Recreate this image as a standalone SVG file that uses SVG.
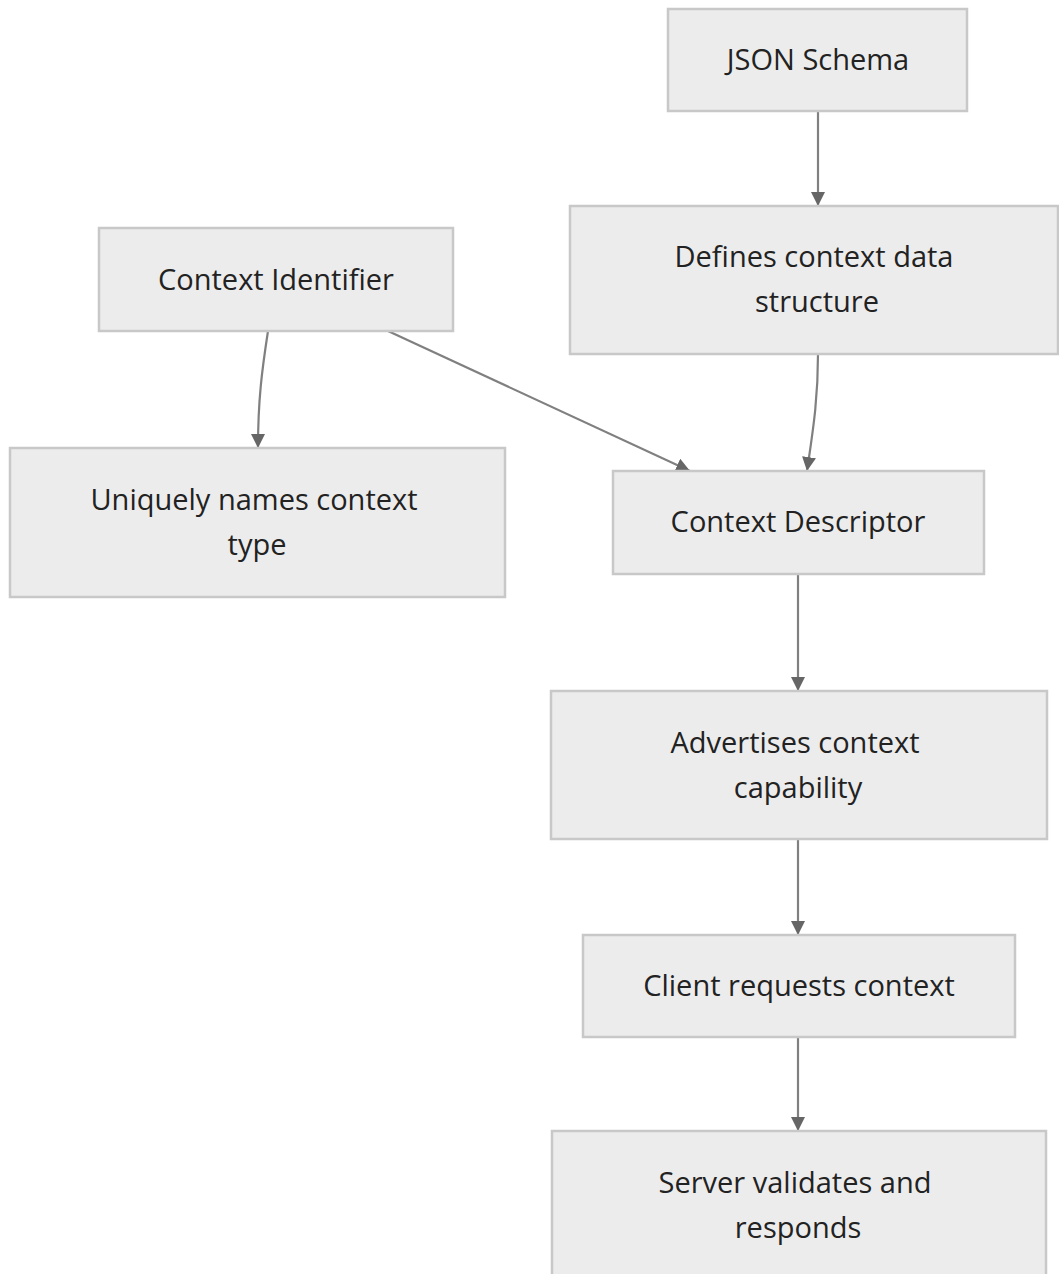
<svg xmlns="http://www.w3.org/2000/svg" width="1059" height="1274" viewBox="0 0 1059 1274">
  <style>
    .box { fill: #ececec; stroke: #c8c8c8; stroke-width: 2.5; }
    .lbl { font-family: "Open Sans", "Noto Sans", sans-serif; font-size: 29px; fill: #222; text-anchor: middle; }
    .edge { fill: none; stroke: #808080; stroke-width: 2.2; marker-end: url(#arrow); }
  </style>
  <defs>
    <!-- filled triangular arrowhead, tip at the end of the path -->
    <marker id="arrow" viewBox="0 0 10 10" refX="10" refY="5" markerWidth="14" markerHeight="14" markerUnits="userSpaceOnUse" orient="auto">
      <path d="M0,0 L10,5 L0,10 z" fill="#666"/>
    </marker>
  </defs>
  <rect width="1059" height="1274" fill="#fff"/>

  <g id="connectors">
    <path class="edge" d="M818,111 L818,206"/>
    <path class="edge" d="M818,354 C818,400 813,430 807,471"/>
    <path class="edge" d="M268,331 C262,370 258,400 258,448"/>
    <path class="edge" d="M388,331 L690,471"/>
    <path class="edge" d="M798,574 L798,691"/>
    <path class="edge" d="M798,839 L798,935"/>
    <path class="edge" d="M798,1037 L798,1131"/>
  </g>

  <g id="json-schema">
    <rect class="box" x="668" y="9" width="299" height="102"/>
    <text class="lbl" x="818" y="70">JSON Schema</text>
  </g>
  <g id="defines-structure">
    <rect class="box" x="570" y="206" width="488" height="148"/>
    <text class="lbl" x="814" y="267">Defines context data</text>
    <text class="lbl" x="817" y="312">structure</text>
  </g>
  <g id="context-identifier">
    <rect class="box" x="99" y="228" width="354" height="103"/>
    <text class="lbl" x="276" y="290">Context Identifier</text>
  </g>
  <g id="uniquely-names">
    <rect class="box" x="10" y="448" width="495" height="149"/>
    <text class="lbl" x="254" y="510">Uniquely names context</text>
    <text class="lbl" x="257" y="555">type</text>
  </g>
  <g id="context-descriptor">
    <rect class="box" x="613" y="471" width="371" height="103"/>
    <text class="lbl" x="798" y="532">Context Descriptor</text>
  </g>
  <g id="advertises">
    <rect class="box" x="551" y="691" width="496" height="148"/>
    <text class="lbl" x="795" y="753">Advertises context</text>
    <text class="lbl" x="798" y="798">capability</text>
  </g>
  <g id="client-requests">
    <rect class="box" x="583" y="935" width="432" height="102"/>
    <text class="lbl" x="799" y="996">Client requests context</text>
  </g>
  <g id="server-validates">
    <rect class="box" x="552" y="1131" width="494" height="160"/>
    <text class="lbl" x="795" y="1193">Server validates and</text>
    <text class="lbl" x="798" y="1238">responds</text>
  </g>
</svg>
